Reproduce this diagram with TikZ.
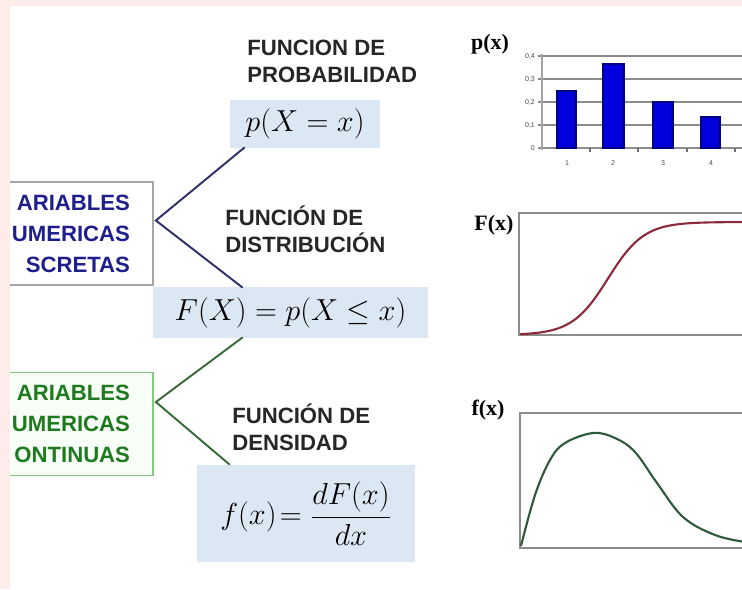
\documentclass[tikz,border=0pt]{standalone}
\usepackage{amsmath}
\usepackage{fontspec}
\usetikzlibrary{calc}
\newfontfamily\headfont{Liberation Sans}
\newfontfamily\plotfont{Liberation Serif}
\definecolor{pinkedge}{HTML}{FDECEA}
\definecolor{formblue}{HTML}{DCE7F4}
\definecolor{discblue}{HTML}{1E1E8C}
\definecolor{contgreen}{HTML}{1F7A1F}
\definecolor{linkblue}{HTML}{303068}
\definecolor{linkgreen}{HTML}{3A6A3A}
\definecolor{plotgray}{HTML}{8C8C8C}
\definecolor{barblue}{HTML}{0000DC}
\definecolor{cdfred}{HTML}{8C2A3C}
\definecolor{pdfgreen}{HTML}{2E5A3A}

\begin{document}
\begin{tikzpicture}[x=0.02cm, y=-0.02cm,
    heading/.style={anchor=west, align=left, inner sep=0pt, text=black!85,
        font=\headfont\bfseries\fontsize{12.6}{15.4}\selectfont},
    catbox/.style={draw=#1, line width=1pt, text width=2.54cm, inner xsep=0.46cm,
        minimum height=2.06cm, align=right, font=\headfont\bfseries\fontsize{12.6}{17.6}\selectfont},
    formbox/.style={fill=formblue, inner sep=0pt, font=\fontsize{19}{23}\selectfont},
    link/.style={line width=1.1pt},
    plotbox/.style={draw=plotgray, line width=1.6pt},
    tick/.style={font=\headfont\fontsize{4}{4}\selectfont, text=black!70, inner sep=1pt},
    bar/.style={fill=barblue, draw=blue!50!black, line width=0.6pt}]
    \clip (0,0) rectangle (742,589);
    \fill[white] (0,0) rectangle (742,589);

    % categories of variables
    \node[catbox=gray!70, fill=white, text=discblue] (disc) at (66.5,233.5)
        {ARIABLES\\UMERICAS\\SCRETAS};
    \node[catbox=gray!60!green!70, fill=green!3, text=contgreen] (cont) at (66.5,424)
        {ARIABLES\\UMERICAS\\ONTINUAS};

    % formulas
    \node[formbox, minimum width=3cm, minimum height=0.96cm] (pxx) at (305,124) {$p(X=x)$};
    \node[formbox, minimum width=5.5cm, minimum height=1.02cm] (Fdist) at (290.5,312.5) {$F(X)=p(X\le x)$};
    \node[formbox, minimum width=4.36cm, minimum height=1.94cm] (fdens) at (306,513.5) {$f(x)\!=\dfrac{dF(x)}{dx}$};

    \node[heading] (hprob) at (247,61) {FUNCION DE\\PROBABILIDAD};
    \node[heading] (hdist) at (225,229) {FUNCIÓN DE\\DISTRIBUCIÓN};
    \node[heading] (hdens) at (232,427) {FUNCIÓN DE\\DENSIDAD};

    % branches
    \coordinate (dv) at ($(disc.east)+(2,-13)$);
    \coordinate (cv) at ($(cont.east)+(2,-22)$);
    \draw[link, linkblue] ($(pxx.south west)+(15,-1)$) -- (dv) -- ($(Fdist.north west)+(90,1)$);
    \draw[link, linkgreen] ($(Fdist.south west)+(90,-1)$) -- (cv) -- ($(fdens.north west)+(33,0)$);

    % bar chart
    \node[font=\plotfont\bfseries\fontsize{12.5}{14}\selectfont] (lp) at (490,44) {p(x)};
    \foreach \yy/\lab in {148/0, 125/{0,1}, 102/{0,2}, 79/{0,3}, 56/{0,4}} {
        \draw[plotgray, line width=1.1pt] (538,\yy) -- (745,\yy);
        \node[tick, anchor=east] at (537,\yy) {\lab};
    }
    \draw[plotgray!80, line width=1.1pt] (542,54) -- (542,150);
    \draw[bar] (557,148) rectangle (576,91);
    \draw[bar] (603,148) rectangle (624,64);
    \draw[bar] (653,148) rectangle (673,102);
    \draw[bar] (701,148) rectangle (720,117);
    \foreach \xx in {590,638,687,735} \draw[plotgray!80!black, line width=0.8pt] (\xx,148) -- (\xx,152);
    \foreach \xx/\lab in {567/1, 613/2, 663/3, 711/4} \node[tick] at (\xx,163) {\lab};

    % distribution
    \node[font=\plotfont\bfseries\fontsize{12.5}{14}\selectfont] (lF) at (494,225) {F(x)};
    \draw[plotbox] (519,213) rectangle (760,335);
    \draw[cdfred, line width=1.2pt] plot[domain=520:745, samples=60, smooth]
        (\x, {335 - 113/(1 + exp(-(\x - 608)/18))});

    % density
    \node[font=\plotfont\bfseries\fontsize{12.5}{14}\selectfont] (lf) at (488,410) {f(x)};
    \draw[plotbox] (520,413) rectangle (760,548);
    \draw[pdfgreen, line width=1.2pt] plot[smooth, tension=0.6] coordinates
        {(521,546) (535,495) (550,460) (565,443) (593,433) (615,438) (635,452) (657,483) (683,517) (715,535) (745,542)};

    % page edge
    \fill[pinkedge] (0,0) rectangle (10,589);
    \fill[pinkedge] (0,0) rectangle (742,6);
\end{tikzpicture}
\end{document}
